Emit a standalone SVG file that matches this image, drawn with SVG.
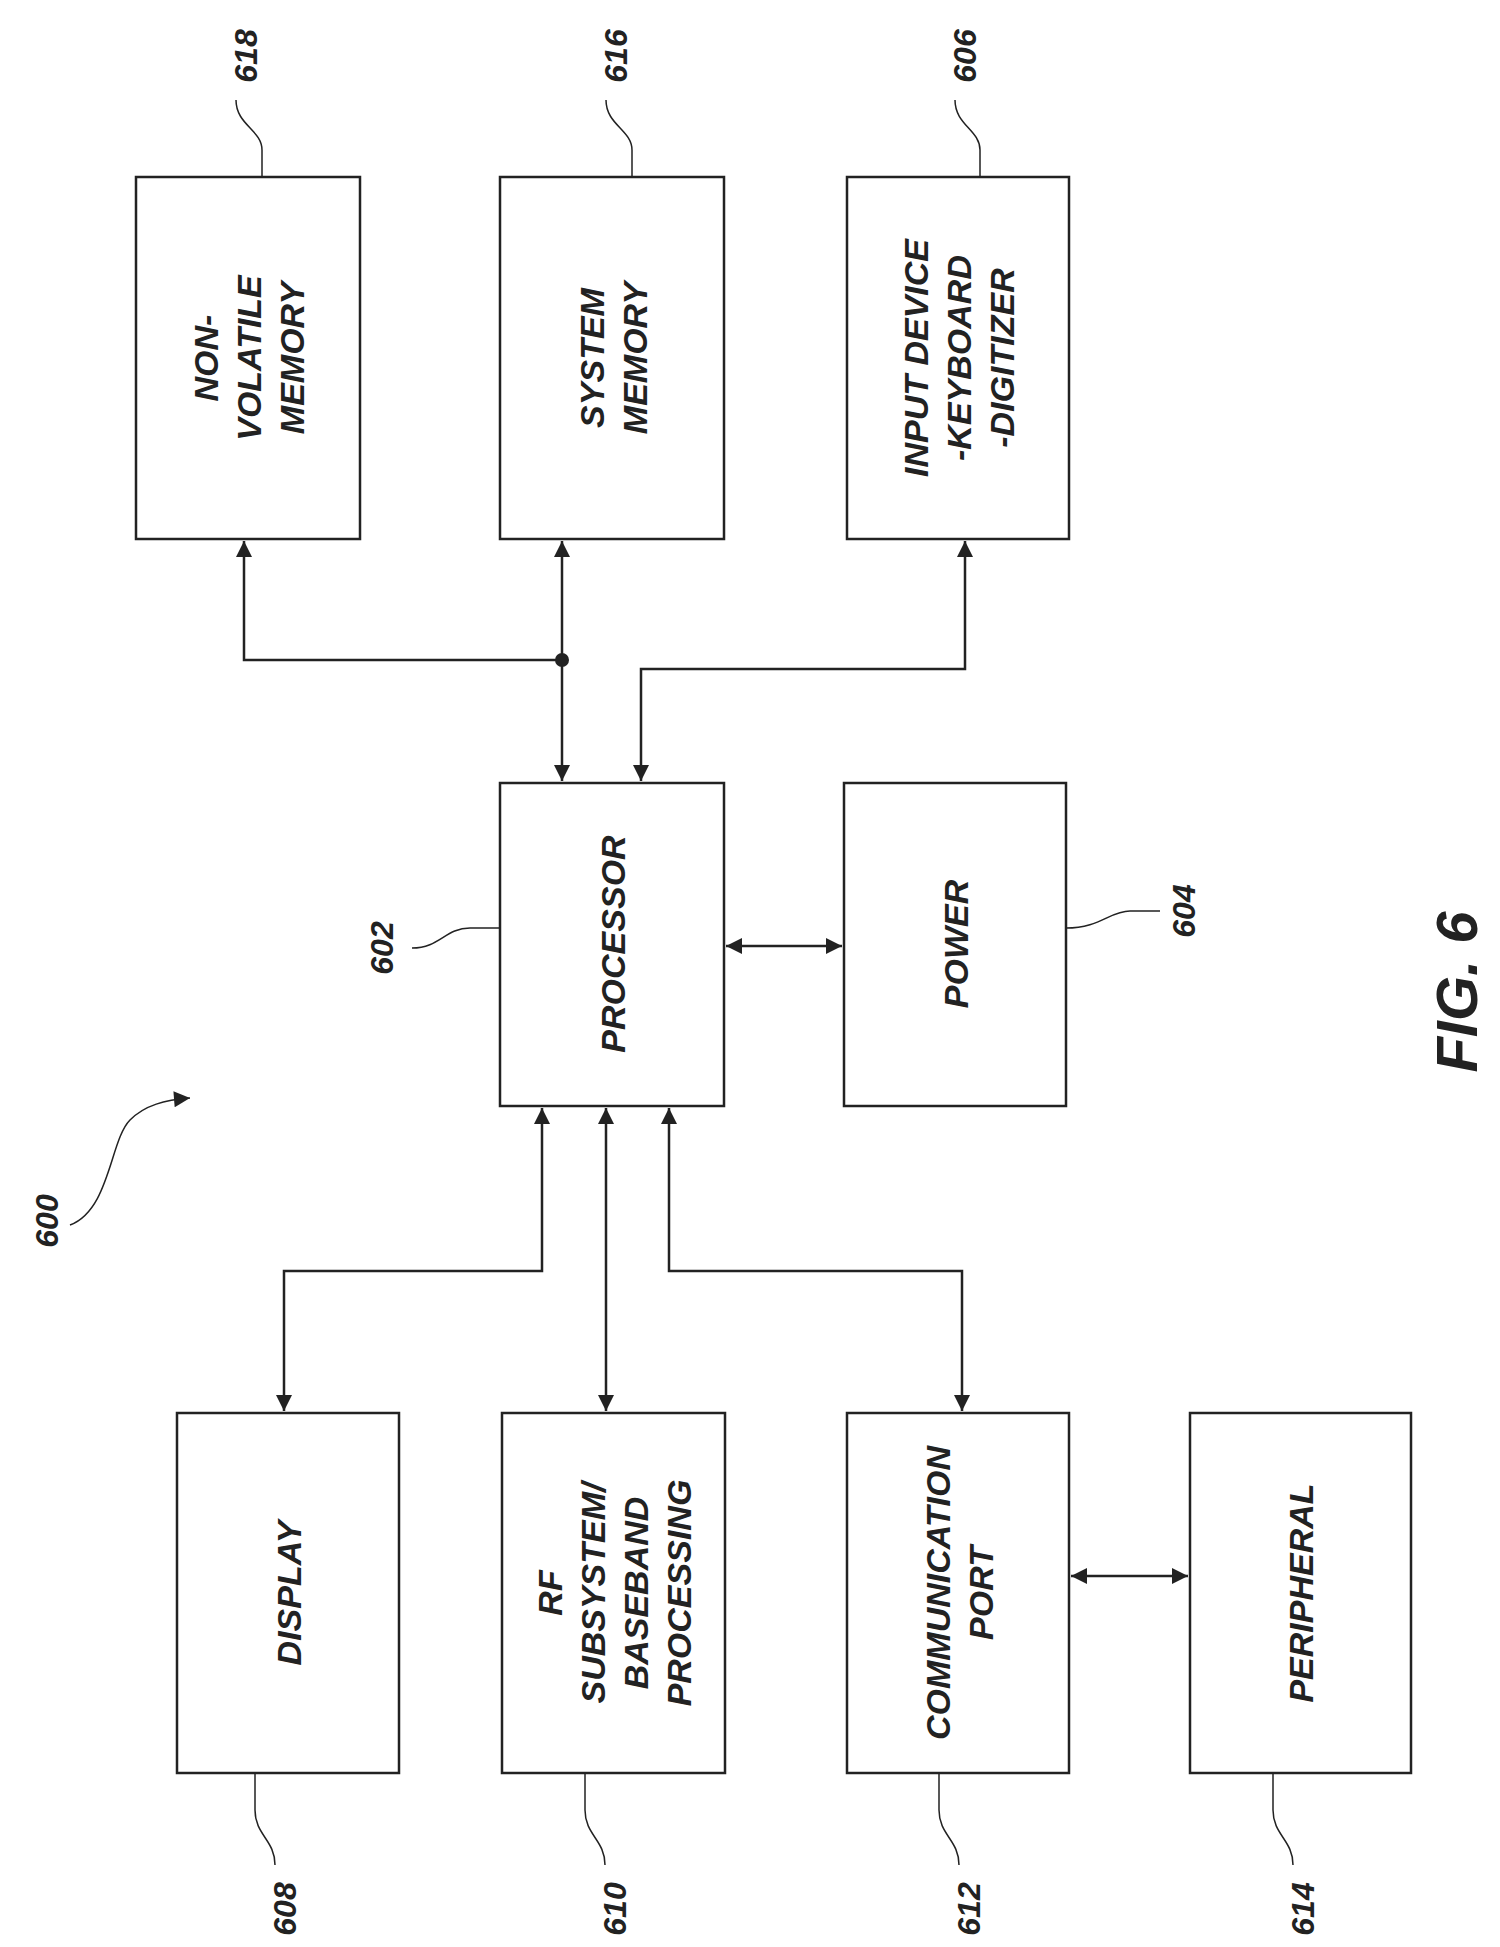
<svg xmlns="http://www.w3.org/2000/svg" width="1500" height="1947" viewBox="0 0 1500 1947">
<style>
.b{fill:#fff;stroke:#222;stroke-width:2.5}
.t{font-family:"Liberation Sans",Arial,sans-serif;font-style:italic;font-weight:bold;font-size:34px;fill:#222;text-anchor:middle}
.l{font-family:"Liberation Sans",Arial,sans-serif;font-style:italic;font-weight:bold;font-size:32px;fill:#222;text-anchor:middle}
.c{fill:none;stroke:#222;stroke-width:2.5}
.ld{fill:none;stroke:#222;stroke-width:1.5}
</style>
<defs>
<marker id="a2" viewBox="0 0 10 10" refX="10" refY="5" markerWidth="18" markerHeight="16" orient="auto-start-reverse" markerUnits="userSpaceOnUse"><path d="M0,0L10,5L0,10z" fill="#222"/></marker>
</defs>
<g id="n618"><rect class="b" x="136" y="177" width="224" height="362"/><text class="t" transform="translate(248,358) rotate(-90)"><tspan x="0" y="-30">NON-</tspan><tspan x="0" y="13">VOLATILE</tspan><tspan x="0" y="56">MEMORY</tspan></text>
<text class="l" transform="translate(246,56) rotate(-90)" y="11">618</text><path class="ld" d="M236,100 C236,125 262,130 262,150 C262,165 262,170 262,177"/></g>
<g id="n616"><rect class="b" x="500" y="177" width="224" height="362"/><text class="t" transform="translate(612,358) rotate(-90)"><tspan x="0" y="-8">SYSTEM</tspan><tspan x="0" y="35">MEMORY</tspan></text>
<text class="l" transform="translate(616,56) rotate(-90)" y="11">616</text><path class="ld" d="M606,100 C606,125 632,130 632,150 L632,177"/></g>
<g id="n606"><rect class="b" x="847" y="177" width="222" height="362"/><text class="t" transform="translate(958,358) rotate(-90)"><tspan x="0" y="-30">INPUT DEVICE</tspan><tspan x="0" y="13">-KEYBOARD</tspan><tspan x="0" y="56">-DIGITIZER</tspan></text>
<text class="l" transform="translate(965,56) rotate(-90)" y="11">606</text><path class="ld" d="M955,100 C955,125 980,130 980,150 L980,177"/></g>
<g id="n602"><rect class="b" x="500" y="783" width="224" height="323"/><text class="t" transform="translate(612,944) rotate(-90)" y="13">PROCESSOR</text>
<text class="l" transform="translate(382,948) rotate(-90)" y="11">602</text><path class="ld" d="M412,948 C440,948 445,928 470,928 L500,928"/></g>
<g id="n604"><rect class="b" x="844" y="783" width="222" height="323"/><text class="t" transform="translate(955,944) rotate(-90)" y="13">POWER</text>
<text class="l" transform="translate(1184,911) rotate(-90)" y="11">604</text><path class="ld" d="M1066,928 C1100,928 1110,911 1130,911 L1160,911"/></g>
<g id="n608"><rect class="b" x="177" y="1413" width="222" height="360"/><text class="t" transform="translate(288,1593) rotate(-90)" y="13">DISPLAY</text>
<text class="l" transform="translate(285,1909) rotate(-90)" y="11">608</text><path class="ld" d="M275,1865 C275,1840 255,1835 255,1810 L255,1773"/></g>
<g id="n610"><rect class="b" x="502" y="1413" width="223" height="360"/><text class="t" transform="translate(613,1593) rotate(-90)"><tspan x="0" y="-51">RF</tspan><tspan x="0" y="-8">SUBSYSTEM/</tspan><tspan x="0" y="35">BASEBAND</tspan><tspan x="0" y="78">PROCESSING</tspan></text>
<text class="l" transform="translate(615,1909) rotate(-90)" y="11">610</text><path class="ld" d="M605,1865 C605,1840 585,1835 585,1810 L585,1773"/></g>
<g id="n612"><rect class="b" x="847" y="1413" width="222" height="360"/><text class="t" transform="translate(958,1593) rotate(-90)"><tspan x="0" y="-8">COMMUNICATION</tspan><tspan x="0" y="35">PORT</tspan></text>
<text class="l" transform="translate(969,1909) rotate(-90)" y="11">612</text><path class="ld" d="M959,1865 C959,1840 939,1835 939,1810 L939,1773"/></g>
<g id="n614"><rect class="b" x="1190" y="1413" width="221" height="360"/><text class="t" transform="translate(1300,1593) rotate(-90)" y="13">PERIPHERAL</text>
<text class="l" transform="translate(1303,1909) rotate(-90)" y="11">614</text><path class="ld" d="M1293,1865 C1293,1840 1273,1835 1273,1810 L1273,1773"/></g>
<g id="n600"><text class="l" transform="translate(47,1221) rotate(-90)" y="11">600</text><path class="ld" d="M70,1225 C110,1210 110,1140 130,1120 C145,1105 165,1100 190,1098" marker-end="url(#a2)"/></g>
<text class="l" style="font-size:58px" transform="translate(1457,992) rotate(-90)" y="20">FIG. 6</text>
<g id="connectors">
<path class="c" d="M562,660 L244,660 L244,541" marker-end="url(#a2)"/>
<path class="c" d="M562,541 L562,781" marker-start="url(#a2)" marker-end="url(#a2)"/>
<circle cx="562" cy="660" r="7" fill="#222"/>
<path class="c" d="M641,781 L641,669 L965,669 L965,541" marker-start="url(#a2)" marker-end="url(#a2)"/>
<path class="c" d="M726,946 L842,946" marker-start="url(#a2)" marker-end="url(#a2)"/>
<path class="c" d="M542,1108 L542,1271 L284,1271 L284,1411" marker-start="url(#a2)" marker-end="url(#a2)"/>
<path class="c" d="M606,1108 L606,1411" marker-start="url(#a2)" marker-end="url(#a2)"/>
<path class="c" d="M669,1108 L669,1271 L962,1271 L962,1411" marker-start="url(#a2)" marker-end="url(#a2)"/>
<path class="c" d="M1071,1576 L1188,1576" marker-start="url(#a2)" marker-end="url(#a2)"/>
</g>
</svg>
